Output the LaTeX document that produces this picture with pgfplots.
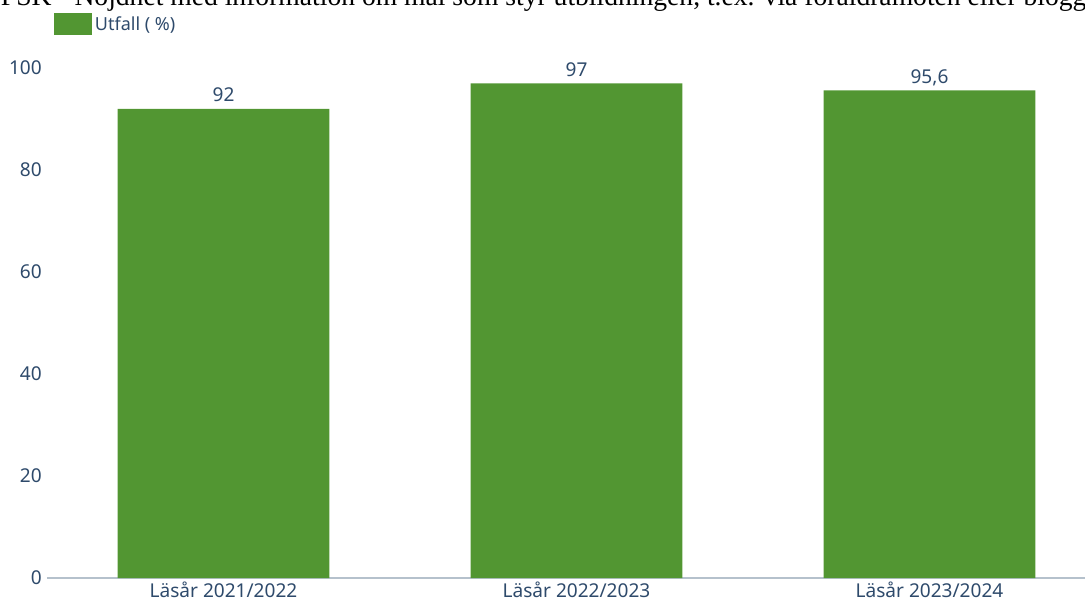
\documentclass[border=0pt]{standalone}
\usepackage{fontspec}
\setmainfont{Noto Sans}
\newfontfamily\titlefont{Liberation Serif}
\usepackage{pgfplots}
\pgfplotsset{compat=1.18}
\definecolor{txt}{HTML}{2E4A6B}
\definecolor{bar}{HTML}{529632}
\definecolor{axl}{HTML}{B5C1CC}
\begin{document}
\begin{tikzpicture}[x=1pt,y=1pt]
\useasboundingbox (0,0) rectangle (813.75,450);
\clip (0,0) rectangle (813.75,450);
\node[anchor=base west, inner sep=0pt, font=\titlefont\fontsize{20.7}{23}\selectfont, text=black] at (0.5,446.2)
  {FSK - Nöjdhet med information om mål som styr utbildningen, t.ex. via föräldramöten eller blogg};
\begin{axis}[
  at={(35.25pt,16.5pt)}, anchor=south west,
  scale only axis, width=794.25pt, height=382.5pt,
  xmin=-0.5, xmax=2.5, ymin=0, ymax=100,
  axis x line*=bottom, axis y line*=left,
  x axis line style={draw=axl, line width=1.1pt, -},
  y axis line style={draw=none},
  xtick={0,1,2},
  xticklabels={Läsår 2021/2022, Läsår 2022/2023, Läsår 2023/2024},
  ytick={0,20,40,60,80,100},
  major tick length=0pt,
  /pgf/number format/assume math mode=true,
  ticklabel style={font=\fontsize{14.3}{16}\selectfont, text=txt},
  yticklabel style={anchor=east, inner sep=0pt, xshift=-3.75pt},
  xticklabel style={anchor=north, inner sep=0pt, yshift=-2.5pt},
  ybar, bar width=0.6,
  nodes near coords={\pgfmathprintnumber[use comma]{\pgfplotspointmeta}},
  every node near coord/.append style={font=\fontsize{14.3}{16}\selectfont, text=txt, anchor=south, inner sep=0pt, text depth=0pt, yshift=5pt},
  legend style={at={(rel axis cs:0.0066,1.1078)}, anchor=north west, draw=none, fill=none, inner sep=0pt,
    font=\fontsize{13.5}{15}\selectfont, text=txt, legend cell align=left,
    /tikz/every even column/.style={column sep=3pt}},
  legend image code/.code={\fill[bar] (0pt,-8.25pt) rectangle (28.5pt,8.25pt);},
  clip=false,
]
\addplot[fill=bar, draw=none] coordinates {(0,92) (1,97) (2,95.6)};
\addlegendentry{Utfall ( \%)}
\end{axis}
\end{tikzpicture}
\end{document}
